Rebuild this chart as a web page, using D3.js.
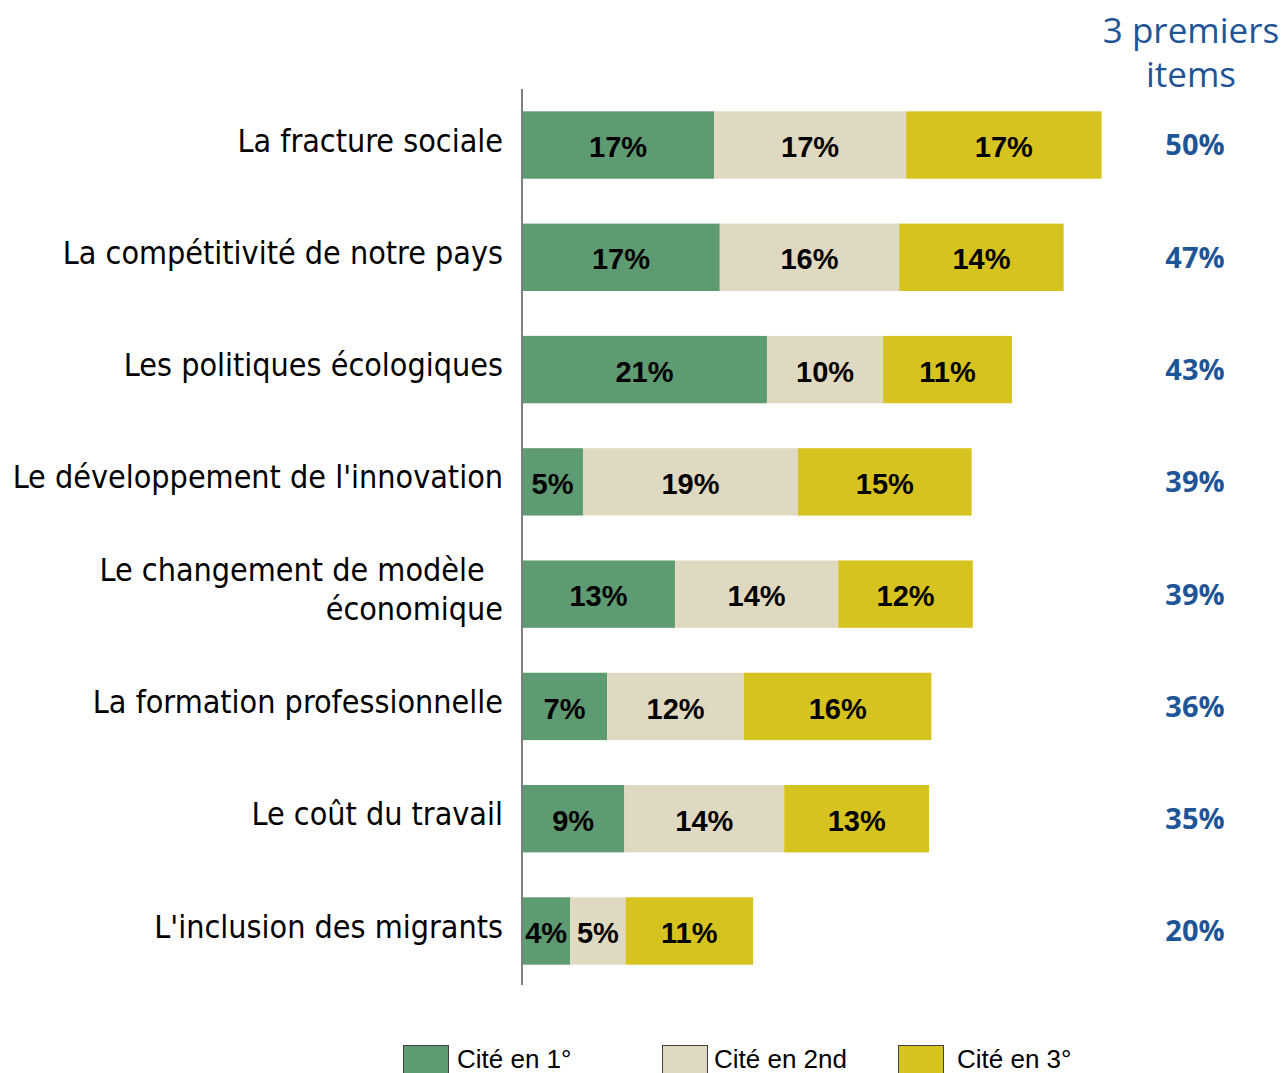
<!DOCTYPE html>
<html>
<head>
<meta charset="utf-8">
<script src="https://cdn.jsdelivr.net/npm/d3@7"></script>
<style>
  body { margin: 0; background: #fff; }
  svg { display: block; }
</style>
</head>
<body>
<svg id="chart" width="1283" height="1073"></svg>
<script>
// items, top to bottom (multi-line labels split with |)
const items = [
  "La fracture sociale",
  "La compétitivité de notre pays",
  "Les politiques écologiques",
  "Le développement de l'innovation",
  "Le changement de modèle\u00a0\u00a0|économique",
  "La formation professionnelle",
  "Le coût du travail",
  "L'inclusion des migrants"
];
const first  = [16.7, 17.2, 21.3, 5.3, 13.3, 7.4, 8.9, 4.2];
const second = [16.7, 15.6, 10.1, 18.7, 14.2, 11.9, 13.9, 4.8];
const third  = [17.0, 14.3, 11.2, 15.1, 11.7, 16.3, 12.6, 11.1];
const totals = ["50%", "47%", "43%", "39%", "39%", "36%", "35%", "20%"];
const seriesNames = ["Cité en 1°", "Cité en 2nd", "Cité en 3°"];
const colors = ["#5e9a72", "#e0d9c1", "#d7c31f"];

const svg = d3.select("#chart");
const x0 = 522;

const x = d3.scaleLinear().domain([0, 1]).range([0, 11.5]);
const y = d3.scaleBand().domain(d3.range(items.length))
    .range([90, 986]).paddingInner(0.4).paddingOuter(0.19);

const rows = items.map((d, i) => ({i, vals: [first[i], second[i], third[i]]}));

// bars
const row = svg.selectAll("g.row").data(rows).join("g").attr("class", "row")
    .attr("transform", d => "translate(" + x0 + "," + y(d.i) + ")");

row.each(function (d) {
    let acc = 0;
    const segs = d.vals.map((v, k) => {
        const s = {v, k, start: acc};
        acc += v;
        return s;
    });
    const g = d3.select(this);
    g.selectAll("rect").data(segs).join("rect")
        .attr("x", s => x(s.start))
        .attr("y", 0)
        .attr("width", s => x(s.v))
        .attr("height", y.bandwidth())
        .attr("fill", s => colors[s.k]);
    g.selectAll("text").data(segs).join("text")
        .attr("x", s => x(s.start + s.v / 2))
        .attr("y", y.bandwidth() / 2 + 2)
        .attr("dy", "0.35em")
        .attr("text-anchor", "middle")
        .style("font-family", "Liberation Sans, Arial, sans-serif")
        .style("font-weight", "bold")
        .style("font-size", "29px")
        .attr("fill", "#000")
        .text(s => Math.round(s.v) + "%");
});

// axis line
svg.append("line")
    .attr("x1", x0).attr("x2", x0)
    .attr("y1", 89).attr("y2", 985)
    .attr("stroke", "#7f7f7f").attr("stroke-width", 2);

// category labels
svg.selectAll("text.cat").data(items).join("text").attr("class", "cat")
    .attr("text-anchor", "end")
    .style("font-family", "DejaVu Sans Condensed, DejaVu Sans, sans-serif")
    .style("font-size", "32px")
    .attr("fill", "#000")
    .each(function (d, i) {
        const lines = d.split("|");
        const cy = y(i) + y.bandwidth() / 2 - 5;
        const lh = 39;
        d3.select(this).selectAll("tspan").data(lines).join("tspan")
            .attr("x", 503)
            .attr("y", (l, j) => cy + (j - (lines.length - 1) / 2) * lh)
            .attr("dy", "0.36em")
            .text(l => l);
    });

// totals column
svg.append("text")
    .attr("text-anchor", "middle")
    .style("font-family", "Open Sans, sans-serif")
    .style("font-size", "35px")
    .attr("fill", "#1f5596")
    .selectAll("tspan").data(["3 premiers", "items"]).join("tspan")
    .attr("x", 1191)
    .attr("y", (d, j) => 43 + j * 44)
    .text(d => d);

svg.selectAll("text.tot").data(totals).join("text").attr("class", "tot")
    .attr("x", 1195)
    .attr("y", (d, i) => y(i) + y.bandwidth() / 2)
    .attr("dy", "0.36em")
    .attr("text-anchor", "middle")
    .style("font-family", "Open Sans, sans-serif")
    .style("font-weight", "bold")
    .style("font-size", "29px")
    .attr("fill", "#1f5596")
    .text(d => d);

// legend
const legX = [403, 662, 898];
const legTextX = [457, 714, 957];
const leg = svg.selectAll("g.leg").data(seriesNames).join("g").attr("class", "leg");
leg.append("rect")
    .attr("x", (d, k) => legX[k] + 0.5)
    .attr("y", 1045.5)
    .attr("width", 45).attr("height", 40)
    .attr("fill", (d, k) => colors[k])
    .attr("stroke", "#404040").attr("stroke-width", 1);
leg.append("text")
    .attr("x", (d, k) => legTextX[k])
    .attr("y", 1068)
    .style("font-family", "Liberation Sans, Arial, sans-serif")
    .style("font-size", "26px")
    .attr("fill", "#000")
    .text(d => d);
</script>
</body>
</html>
